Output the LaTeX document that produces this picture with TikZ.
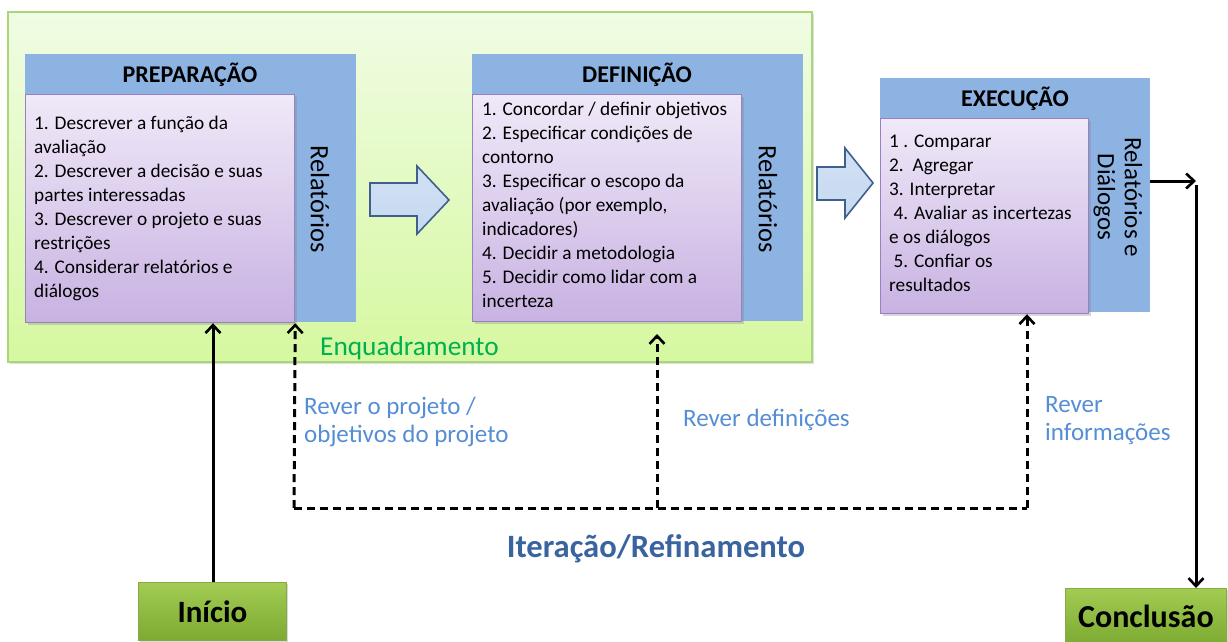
\documentclass[tikz,border=0pt]{standalone}
\usepackage{fontspec}
\setmainfont{Carlito}
\usetikzlibrary{shadows,arrows.meta}
\definecolor{bluebg}{HTML}{8DB3E2}
\definecolor{purpletop}{HTML}{F0E9F8}
\definecolor{purplebot}{HTML}{C8B2E2}
\definecolor{purpleline}{HTML}{9A80BE}
\definecolor{frametop}{HTML}{F0FCE4}
\definecolor{framebot}{HTML}{D6F8A0}
\definecolor{frameline}{HTML}{AAD67A}
\definecolor{greentop}{HTML}{A2CC52}
\definecolor{greenbot}{HTML}{7DAA32}
\definecolor{greenline}{HTML}{8AA845}
\definecolor{arrowfill}{HTML}{C6D9F1}
\definecolor{arrowline}{HTML}{3F5F8C}
\definecolor{enqgreen}{HTML}{00B050}
\definecolor{labelblue}{HTML}{558ED5}
\definecolor{iterblue}{HTML}{3A64A0}
\tikzset{
  frame/.style={draw=frameline, line width=1.5pt, top color=frametop, bottom color=framebot,
    drop shadow={shadow xshift=2pt, shadow yshift=-2pt, opacity=0.25}},
  bluebox/.style={fill=bluebg, draw=none, anchor=north west, inner sep=0},
  purplebox/.style={draw=purpleline, line width=1.2pt, top color=purpletop, bottom color=purplebot,
    anchor=north west, inner sep=0, drop shadow={shadow xshift=2pt, shadow yshift=-2pt, opacity=0.3}},
  titletext/.style={font=\fontsize{24}{28}\selectfont\bfseries, text=black, inner sep=0},
  listtext/.style={font=\fontsize{19.3}{24}\selectfont, text=black, align=left, anchor=north west, inner sep=0},
  reltext/.style={font=\fontsize{26.5}{27}\selectfont, text=black, rotate=-90, align=center, inner sep=0},
  blockarrow/.style={draw=arrowline, line width=1.6pt, top color=arrowfill!80!white, bottom color=arrowfill, line join=miter},
  startbox/.style={draw=greenline, line width=0.8pt, top color=greentop, bottom color=greenbot, inner sep=0,
    drop shadow={shadow xshift=2pt, shadow yshift=-2pt, opacity=0.3}},
  bluelabel/.style={font=\fontsize{25}{28}\selectfont, text=labelblue, align=left, anchor=west, inner sep=0},
  flow/.style={line width=3pt, -{Straight Barb[length=8pt, width=15pt, line width=2.6pt]}},
  backflow/.style={line width=3pt, dash pattern=on 8pt off 5pt, -{Straight Barb[length=8pt, width=15pt, line width=2.6pt]}},
  backline/.style={line width=3pt, dash pattern=on 8pt off 5pt},
}
\begin{document}
\begin{tikzpicture}[x=1pt, y=-1pt]
\useasboundingbox (0,0) rectangle (1228,641);
\fill[white] (0,0) rectangle (1228,641);

% framing area
\path[frame] (8,12) rectangle (812,362);

% PREPARACAO
\node[bluebox, minimum width=331, minimum height=268] (prepB) at (25,54) {};
\node[purplebox, minimum width=269, minimum height=228] (prepP) at (25,94) {};
\node[titletext] (prepT) at (190,75) {PREPARAÇÃO};
\node[listtext] (prepL) at (34,116) {1. Descrever a função da\\avaliação\\2. Descrever a decisão e suas\\partes interessadas\\3. Descrever o projeto e suas\\restrições\\4. Considerar relatórios e\\diálogos};
\node[reltext] (prepR) at (320,199) {Relatórios};

% DEFINICAO
\node[bluebox, minimum width=331, minimum height=267] (defB) at (472,54) {};
\node[purplebox, minimum width=269, minimum height=227] (defP) at (472,94) {};
\node[titletext] (defT) at (637,75) {DEFINIÇÃO};
\node[listtext] (defL) at (482,102) {1. Concordar / definir objetivos\\2. Especificar condições de\\contorno\\3. Especificar o escopo da\\avaliação (por exemplo,\\indicadores)\\4. Decidir a metodologia\\5. Decidir como lidar com a\\incerteza};
\node[reltext] (defR) at (768,199) {Relatórios};

% EXECUCAO
\node[bluebox, minimum width=270, minimum height=234] (exeB) at (880,78) {};
\node[purplebox, minimum width=208, minimum height=195] (exeP) at (880,118) {};
\node[titletext] (exeT) at (1015,99) {EXECUÇÃO};
\node[listtext] (exeL) at (889,135) {1 . Comparar\\2.\ \ Agregar\\3. Interpretar\\\ 4. Avaliar as incertezas\\e os diálogos\\\ 5. Confiar os\\resultados};
\node[font=\fontsize{25}{27}\selectfont, text=black, rotate=-90, align=center, inner sep=0] (exeR) at (1118,197) {Relatórios e\\Diálogos};

% block arrows
\path[blockarrow] (370,183) -- (417,183) -- (417,166) -- (449,200) -- (417,234) -- (417,216) -- (370,216) -- cycle;
\path[blockarrow] (817,167) -- (845,167) -- (845,148) -- (873,183) -- (845,218) -- (845,200) -- (817,200) -- cycle;

% labels
\node[font=\fontsize{27.3}{30}\selectfont, text=enqgreen, anchor=west, inner sep=0] (enq) at (320,348) {Enquadramento};
\node[bluelabel] (lab1) at (304,422) {Rever o projeto /\\objetivos do projeto};
\node[bluelabel] (lab2) at (683,420) {Rever definições};
\node[bluelabel] (lab3) at (1045,421) {Rever\\informações};
\node[font=\fontsize{32.6}{34}\selectfont\bfseries, text=iterblue, inner sep=0] (iter) at (656,549) {Iteração/Refinamento};

% start / end boxes
\node[startbox, font=\fontsize{31}{34}\selectfont\bfseries, minimum width=148, minimum height=58, anchor=north west] (inicio) at (138,582) {Início};
\node[startbox, font=\fontsize{32}{34}\selectfont\bfseries, minimum width=161, minimum height=56, anchor=north west] (concl) at (1065,588) {Conclusão};

% connectors
\coordinate (c1) at (294,508);
\coordinate (c2) at (657,508);
\coordinate (c3) at (1027,508);
\coordinate (c4) at (1196,181);
\coordinate (c5) at (1196,185);
\draw[flow] (inicio.north -| 213,0) -- (prepP.south -| 213,0);
\draw[backflow] (c1) -- (prepP.south east);
\draw[backline] (c1) -- (c3);
\draw[backflow] (c2) -- (657,334);
\draw[backflow] (c3) -- (exeP.south -| 1027,0);
\draw[flow] (exeB.east |- c4) -- (c4);
\draw[flow] (c5) -- (concl.north -| c5);
\end{tikzpicture}
\end{document}
